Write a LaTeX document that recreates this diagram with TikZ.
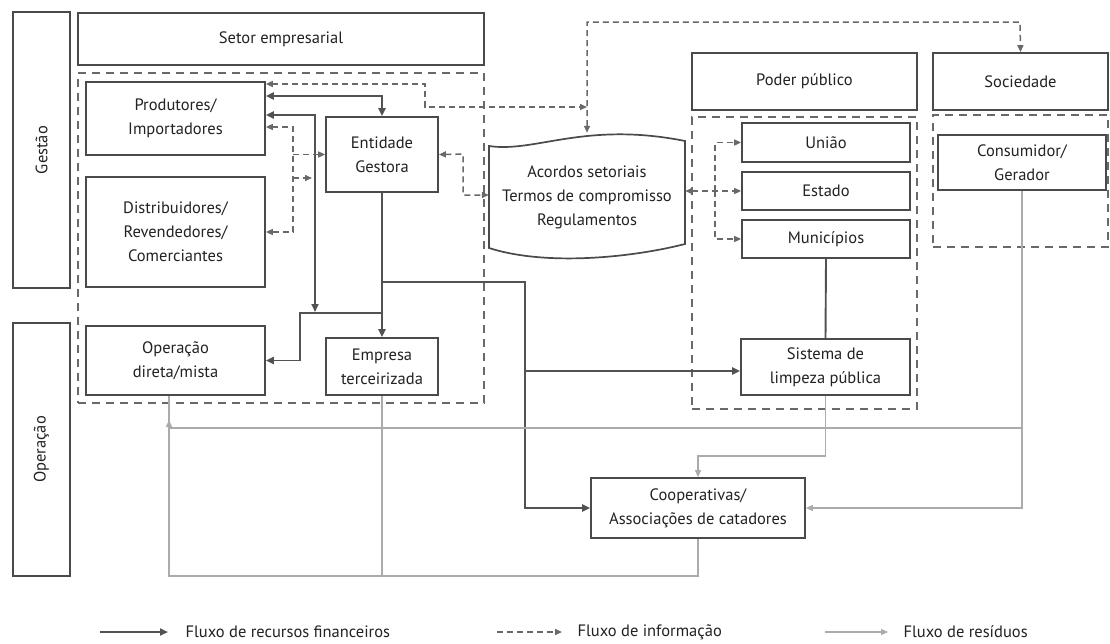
\documentclass[tikz,border=0pt]{standalone}
\usepackage{fontspec}
\setmainfont{PT Sans}
\usetikzlibrary{arrows.meta,fit}
\definecolor{ink}{HTML}{222222}
\definecolor{frame}{HTML}{4A4A4A}
\definecolor{money}{HTML}{525252}
\definecolor{infoc}{HTML}{696969}
\definecolor{wastec}{HTML}{ABABAB}
% a framed box spanning two corners, with its label centred inside
\newcommand\boxnode[4]{%
  \node[box, fit={#2 #3}] (#1) {};
  \node[txt] (#1-text) at (#1) {#4};}
\begin{document}
\begin{tikzpicture}[x=1pt,y=-1pt,
  every node/.style={text=ink, font=\fontsize{16.5}{24}\selectfont},
  txt/.style={align=center, inner sep=0pt},
  box/.style={draw=frame, line width=1.7pt, inner sep=0pt},
  group/.style={draw=infoc, line width=1.7pt, dash pattern=on 8pt off 6pt, inner sep=0pt},
  fin/.style={draw=money, line width=1.9pt, >={Triangle[length=8pt,width=7pt]}},
  info/.style={draw=infoc, line width=1.5pt, dash pattern=on 6pt off 4pt, >={Triangle[length=7pt,width=6pt]}},
  waste/.style={draw=wastec, line width=1.2pt, >={Triangle[length=7pt,width=6pt]}}
]
\fill[white] (0,0) rectangle (1110,643);
\useasboundingbox (0,0) rectangle (1110,643);

% side labels
\node[box, fit={(13,12) (70,288)}] (gestao) {};
\node[rotate=90] (gestao-text) at (gestao) {Gestão};
\node[box, fit={(13,323) (70,576)}] (operacao) {};
\node[rotate=90] (operacao-text) at (operacao) {Operação};

% business sector
\boxnode{setor}{(78,13)}{(484,65)}{Setor empresarial}
\node[group, fit={(78,73) (484,403)}] (empgroup) {};
\boxnode{prod}{(86,82)}{(265,155)}{Produtores/\\Importadores}
\boxnode{dist}{(86,177)}{(265,287)}{Distribuidores/\\Revendedores/\\Comerciantes}
\boxnode{ent}{(326,117)}{(438,192)}{Entidade\\Gestora}
\boxnode{opdir}{(86,326)}{(265,395)}{Operação\\direta/mista}
\boxnode{empter}{(326,338)}{(438,395)}{Empresa\\terceirizada}

% agreements document (tape shape)
\draw[draw=frame, line width=1.7pt] (489,146) .. controls (535,153) and (585,121) .. (685,141)
  -- (685,244) .. controls (630,258) and (545,266) .. (489,248) -- cycle;
\node[inner sep=0pt, fit={(489,133) (685,258)}] (acordos) {};
\node[txt] (acordos-text) at (587,197) {Acordos setoriais\\Termos de compromisso\\Regulamentos};

% public power and society
\boxnode{poder}{(692,53)}{(917,110)}{Poder público}
\boxnode{socied}{(933,53)}{(1108,110)}{Sociedade}
\node[group, fit={(692,117) (917,409)}] (podergroup) {};
\node[group, fit={(933,115) (1108,247)}] (socgroup) {};
\boxnode{uniao}{(742,123)}{(910,162)}{União}
\boxnode{estado}{(742,172)}{(910,210)}{Estado}
\boxnode{munic}{(742,220)}{(910,258)}{Municípios}
\boxnode{consum}{(938,135)}{(1106,190)}{Consumidor/\\Gerador}
\boxnode{sistema}{(741,339)}{(910,395)}{Sistema de\\limpeza pública}
\boxnode{coop}{(591,478)}{(805,538)}{Cooperativas/\\Associações de catadores}

% junction points
\coordinate (j1) at (382,96);
\coordinate (j2) at (315,115);
\coordinate (j3) at (315,312);
\coordinate (j4) at (382,313);
\coordinate (j5) at (300,313);
\coordinate (j7) at (382,282);
\coordinate (j8) at (525,282);
\coordinate (j10) at (525,371);
\coordinate (i1) at (425,84);
\coordinate (i2) at (425,107);
\coordinate (i3) at (587,107);
\coordinate (i4) at (587,22);
\coordinate (i5) at (1020,22);
\coordinate (i6) at (293,127);
\coordinate (i7) at (293,232);
\coordinate (i9) at (293,178);
\coordinate (i10) at (312,178);
\coordinate (i11) at (463,154);
\coordinate (i12) at (463,195);
\coordinate (i15) at (715,191);
\coordinate (w2) at (698,456);
\coordinate (w4) at (1022,428);
\coordinate (w5) at (169,428);
\coordinate (w6) at (698,576);
\coordinate (w7) at (169,576);
\coordinate (w8) at (169,420);
\coordinate (w9) at (382,576);

% financial flows
\draw[fin,<->] (prod.east |- j1) -- (j1) -- (ent.north);
\draw[fin,<->] (prod.east |- j2) -- (j2) -- (j3);
\draw[fin,->] (ent.south) -- (empter.north);
\draw[fin,->] (j4) -- (j5) |- (opdir.east);
\draw[fin,->] (j7) -- (j8) |- (coop.west);
\draw[fin,->] (j10) -- (sistema.west |- j10);
\draw[fin] (munic.south) -- (sistema.north);

% information flows
\draw[info,<->] (prod.east |- i1) -- (i1) -- (i2) -- (i3);
\draw[info,<->] (acordos.north) -- (i4) -- (i5) -- (socied.north);
\draw[info,<->] (prod.east |- i6) -- (i6) -- (i7) -- (dist.east);
\draw[info,->] (i6 |- ent.west) -- (ent.west);
\draw[info,->] (i9) -- (i10);
\draw[info,<->] (ent.east) -- (i11) -- (i12) -- (acordos.west |- i12);
\draw[info,<->] (acordos.east |- estado.west) -- (estado.west);
\draw[info,->] (i15) |- (uniao.west);
\draw[info,->] (i15) |- (munic.west);

% waste flows
\draw[waste,->] (sistema.south) |- (w2) -- (coop.north);
\draw[waste,->] (consum.south) |- (coop.east);
\draw[waste] (w4) -- (w5) -- (opdir.south -| w5);
\draw[waste,->] (coop.south) -- (w6) -- (w7) -- (w8);
\draw[waste] (w9) -- (empter.south);

% legend
\coordinate (la) at (100,632);
\coordinate (lb) at (168,632);
\coordinate (lc) at (497,632);
\coordinate (ld) at (562,632);
\coordinate (le) at (825,632);
\coordinate (lf) at (888,632);
\draw[fin,->] (la) -- (lb);
\node[anchor=west] (lt1) at (182,632) {Fluxo de recursos financeiros};
\draw[info,->] (lc) -- (ld);
\node[anchor=west] (lt2) at (574,632) {Fluxo de informação};
\draw[waste,->] (le) -- (lf);
\node[anchor=west] (lt3) at (900,632) {Fluxo de resíduos};
\end{tikzpicture}
\end{document}
